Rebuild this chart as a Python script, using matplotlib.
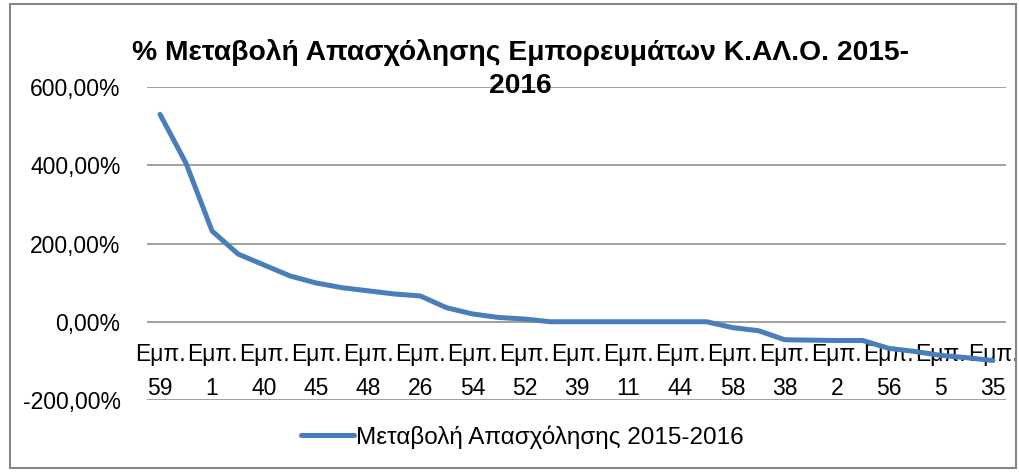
import matplotlib.pyplot as plt
from matplotlib.patches import Rectangle
from matplotlib.ticker import FuncFormatter
import numpy as np

# % change per trade (sorted)
values = [530, 405, 232, 173, 145, 117, 99, 87, 79, 71, 66, 36, 20, 11, 7,
          0, 0, 0, 0, 0, 0, 0, -15, -23, -46, -47, -48, -48, -68, -76, -86,
          -92, -99]
# only every other category is labelled in the chart
tick_labels = ["59", "1", "40", "45", "48", "26", "54", "52", "39", "11",
               "44", "58", "38", "2", "56", "5", "35"]
series_name = "Μεταβολή Απασχόλησης 2015-2016"
title = "% Μεταβολή Απασχόλησης Εμπορευμάτων Κ.ΑΛ.Ο. 2015-\n2016"

plt.rcParams['font.family'] = ['Liberation Sans', 'DejaVu Sans']

fig = plt.figure(figsize=(10.2, 4.72), dpi=100)
ax = fig.add_axes([147/1020, 1-400/472, (1006-147)/1020, (400-87)/472])

x = np.arange(len(values))
ax.plot(x, values, color='#4A7EBB', lw=3.6, solid_capstyle='round',
        solid_joinstyle='round', label=series_name, zorder=3)

ax.set_xlim(-0.5, len(values) - 0.5)
ax.set_ylim(-200, 600)
ax.set_yticks([-200, 0, 200, 400, 600])
ax.yaxis.set_major_formatter(FuncFormatter(lambda v, p: f"{v:.2f}%".replace('.', ',')))
ax.grid(axis='y', color='#868686', lw=1.1)
ax.set_axisbelow(True)
ax.tick_params(axis='y', length=0, pad=19, labelsize=16.5)

ax.spines['bottom'].set_position(('data', 0))
for s in ax.spines.values():
    s.set_visible(False)
ax.set_xticks(x[::2], ["Εμπ.\n" + t for t in tick_labels])
ax.tick_params(axis='x', length=0, pad=15, labelsize=16.5)
for lbl in ax.get_xticklabels():
    lbl.set_linespacing(1.65)

fig.text(0.51, 0.917, title, ha='center', va='top', fontsize=20.3,
         fontweight='bold', linespacing=1.35)

fig.legend(loc='center', bbox_to_anchor=(0.512, 1-437/472), frameon=False,
           fontsize=17.5, handlelength=2.15, handletextpad=0.08)

fig.patches.append(Rectangle((10/1020, 4/472), 1006/1020, 464/472,
                             transform=fig.transFigure, fill=False,
                             edgecolor='#868686', lw=1.5))

fig.savefig('out.png', dpi=100)
